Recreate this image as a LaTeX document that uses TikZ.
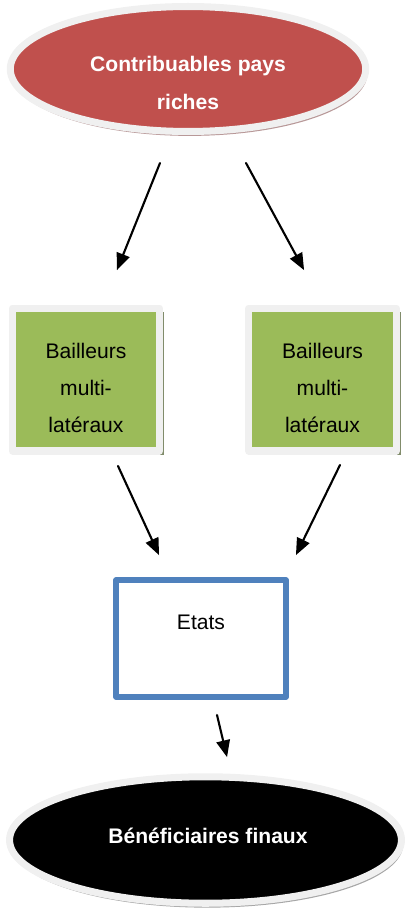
\documentclass[tikz,border=0pt]{standalone}
\usepackage{fontspec}
\setmainfont{Liberation Sans}
\usetikzlibrary{arrows}
\usetikzlibrary{shapes.geometric}
\usetikzlibrary{shadows}
\definecolor{rouge}{HTML}{C0504D}
\definecolor{vert}{HTML}{9BBB59}
\definecolor{bleu}{HTML}{4F81BD}
\definecolor{bord}{HTML}{F0F0F0}

\begin{document}
\begin{tikzpicture}[line cap=round,line join=round,>=triangle 45,x=0.02cm,y=-0.02cm,
        fl/.style={->, line width=1.2pt},
        oval/.style={ellipse, draw=bord, line width=4pt, inner sep=0pt},
        txt/.style={align=center, font=\fontsize{12}{21.3}\selectfont},
        bail/.style={draw=bord, fill=vert, line width=4pt, minimum width=2.95cm, minimum height=2.86cm, drop shadow={shadow xshift=2.5pt, shadow yshift=-2.5pt, fill=black!15!vert!40!gray, opacity=1}}]
                        \useasboundingbox (0,0) rectangle (409,922);

                        \node[oval, fill=rouge, minimum width=7.11cm, minimum height=2.5cm, drop shadow={shadow xshift=1pt, shadow yshift=-2.5pt, fill=rouge!40!gray!70, opacity=1}] (pays) at (188,69) {};
                        \node[txt, white, font=\bfseries\fontsize{12}{21.3}\selectfont] (paystxt) at (188,83) {Contribuables pays\\riches};

                        \node[bail] (bail1) at (86,379.5) {};
                        \node[txt] (bail1txt) at (86,388) {Bailleurs\\multi-\\latéraux};
                        \node[bail] (bail2) at (322.5,379.5) {};
                        \node[txt] (bail2txt) at (322.5,388) {Bailleurs\\multi-\\latéraux};

                        \node[draw=bleu, line width=3.4pt, minimum width=3.39cm, minimum height=2.34cm, align=center, font=\fontsize{12}{19}\selectfont] (etats) at (201,638.5) {Etats\\\mbox{}};

                        \node[oval, fill=black, minimum width=7.84cm, minimum height=2.53cm, drop shadow={shadow xshift=1pt, shadow yshift=-2.5pt, fill=gray!70, opacity=1}] (benef) at (205.5,840) {};
                        \node[txt, white, font=\bfseries\fontsize{12}{14}\selectfont] (beneftxt) at (208,836) {Bénéficiaires finaux};

                        \coordinate (d1) at (160,163);
                        \coordinate (f1) at (117,270);
                        \coordinate (d2) at (246,163);
                        \coordinate (f2) at (304,270);
                        \coordinate (d3) at (118,466);
                        \coordinate (f3) at (159,555);
                        \coordinate (d4) at (340,465);
                        \coordinate (f4) at (296,555);
                        \coordinate (d5) at (217,715);
                        \coordinate (f5) at (227,757);

                        \draw [fl] (d1) -- (f1);
                        \draw [fl] (d2) -- (f2);
                        \draw [fl] (d3) -- (f3);
                        \draw [fl] (d4) -- (f4);
                        \draw [fl] (d5) -- (f5);
                    \end{tikzpicture}
\end{document}
